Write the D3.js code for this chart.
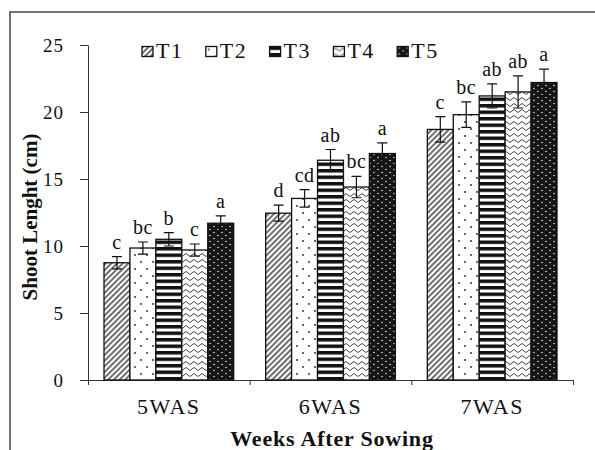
<!DOCTYPE html>
<html>
<head>
<meta charset="UTF-8">
<title>Shoot length</title>
<style>
  body { margin: 0; background: #fff; }
  text { font-family: "Liberation Serif", "Times New Roman", serif; fill: #111; }
  .axis path, .axis line { stroke: #333; stroke-width: 1; }
  .axis text { font-size: 19px; letter-spacing: 1px; font-family: "Liberation Serif", serif; fill: #111; }
</style>
<script src="https://d3js.org/d3.v7.min.js"></script>
</head>
<body>
<svg width="595" height="450"></svg>
<script>
var categories = ["5WAS", "6WAS", "7WAS"];
var series = ["T1", "T2", "T3", "T4", "T5"];
var means = {
  T1: [8.75, 12.45, 18.7],
  T2: [9.85, 13.55, 19.8],
  T3: [10.5, 16.4, 21.2],
  T4: [9.7, 14.4, 21.5],
  T5: [11.7, 16.9, 22.2]
};
var errors = {
  T1: [0.45, 0.6, 0.95],
  T2: [0.45, 0.65, 0.95],
  T3: [0.5, 0.8, 0.9],
  T4: [0.45, 0.8, 1.2],
  T5: [0.55, 0.8, 1.0]
};
var letters = {
  T1: ["c", "d", "c"],
  T2: ["bc", "cd", "bc"],
  T3: ["b", "ab", "ab"],
  T4: ["c", "bc", "ab"],
  T5: ["a", "a", "a"]
};
var yTicks = [0, 5, 10, 15, 20, 25];

var svg = d3.select("svg");
var plotLeft = 88, plotRight = 573, plotTop = 45, plotBottom = 380;

var x0 = d3.scaleBand().domain(categories).range([plotLeft, plotRight]);
var x1 = d3.scaleBand().domain(series).range([16, x0.bandwidth() - 16]);
var xEdge = d3.scaleLinear().domain([0, categories.length]).range([plotLeft, plotRight]);
var y = d3.scaleLinear().domain([0, 25]).range([plotBottom, plotTop]);

// patterns
var defs = svg.append("defs");
var p1 = defs.append("pattern").attr("id", "pT1").attr("patternUnits", "userSpaceOnUse")
  .attr("width", 4).attr("height", 4).attr("patternTransform", "rotate(45)");
p1.append("rect").attr("width", 4).attr("height", 4).attr("fill", "#fff");
p1.append("line").attr("x1", 1).attr("y1", 0).attr("x2", 1).attr("y2", 4)
  .attr("stroke", "#222").attr("stroke-width", 1.3);

var p2 = defs.append("pattern").attr("id", "pT2").attr("patternUnits", "userSpaceOnUse")
  .attr("width", 12).attr("height", 14);
p2.append("rect").attr("width", 12).attr("height", 14).attr("fill", "#fff");
p2.append("circle").attr("cx", 3).attr("cy", 3).attr("r", 0.9).attr("fill", "#222");
p2.append("circle").attr("cx", 9).attr("cy", 10).attr("r", 0.9).attr("fill", "#222");

var p3 = defs.append("pattern").attr("id", "pT3").attr("patternUnits", "userSpaceOnUse")
  .attr("width", 6).attr("height", 6.5);
p3.append("rect").attr("width", 6).attr("height", 6.5).attr("fill", "#fff");
p3.append("rect").attr("width", 6).attr("height", 3.5).attr("fill", "#111");

var p4 = defs.append("pattern").attr("id", "pT4").attr("patternUnits", "userSpaceOnUse")
  .attr("width", 8).attr("height", 6);
p4.append("rect").attr("width", 8).attr("height", 6).attr("fill", "#fff");
p4.append("path").attr("d", "M0,3 Q2,0 4,3 T8,3").attr("fill", "none")
  .attr("stroke", "#444").attr("stroke-width", 1);

var p5 = defs.append("pattern").attr("id", "pT5").attr("patternUnits", "userSpaceOnUse")
  .attr("width", 8).attr("height", 6);
p5.append("rect").attr("width", 8).attr("height", 6).attr("fill", "#151515");
p5.append("circle").attr("cx", 2).attr("cy", 1.5).attr("r", 0.8).attr("fill", "#ddd");
p5.append("circle").attr("cx", 6).attr("cy", 4.5).attr("r", 0.8).attr("fill", "#ddd");

// frame of the scanned page
svg.append("path").attr("d", "M10,450 V12 H595")
  .attr("fill", "none").attr("stroke", "#444").attr("stroke-width", 1.5);

// y axis
svg.append("g").attr("class", "axis")
  .attr("transform", "translate(" + plotLeft + ",0)")
  .call(d3.axisLeft(y).tickValues(yTicks).tickSize(8).tickSizeOuter(0).tickPadding(16));

// x axis: boundary ticks
svg.append("g").attr("class", "axis")
  .attr("transform", "translate(0," + plotBottom + ")")
  .call(d3.axisBottom(xEdge).tickValues(d3.range(categories.length + 1)).tickFormat("").tickSize(5).tickSizeOuter(0));

// category labels
svg.append("g").selectAll("text").data(categories).join("text")
  .attr("x", function(d) { return x0(d) + x0.bandwidth() / 2; })
  .attr("y", 414)
  .attr("text-anchor", "middle")
  .style("font-size", "22px").style("letter-spacing", "1.5px")
  .text(function(d) { return d; });

function rows(s) {
  return categories.map(function(c, i) {
    return {s: s, c: c, v: means[s][i], e: errors[s][i], l: letters[s][i]};
  });
}

// bars
var groups = svg.append("g").selectAll("g").data(series).join("g");
groups.selectAll("rect")
  .data(rows)
  .join("rect")
  .attr("x", function(d) { return x0(d.c) + x1(d.s); })
  .attr("y", function(d) { return y(d.v); })
  .attr("width", x1.bandwidth())
  .attr("height", function(d) { return y(0) - y(d.v); })
  .attr("fill", function(d) { return "url(#p" + d.s + ")"; })
  .attr("stroke", "#111").attr("stroke-width", 1.3);

// error bars and letters
var eb = groups.selectAll("g.err")
  .data(rows)
  .join("g").attr("class", "err")
  .attr("transform", function(d) { return "translate(" + (x0(d.c) + x1(d.s) + x1.bandwidth() / 2) + ",0)"; });
eb.append("path")
  .attr("d", function(d) {
    var a = y(d.v + d.e), b = y(d.v - d.e);
    return "M0," + a + "V" + b + "M-5," + a + "H5M-5," + b + "H5";
  })
  .attr("stroke", "#111").attr("stroke-width", 1.2).attr("fill", "none");
eb.append("text")
  .attr("y", function(d) { return y(d.v + d.e) - 8; })
  .attr("text-anchor", "middle")
  .style("font-size", "20px").style("letter-spacing", "0.5px")
  .text(function(d) { return d.l; });

// legend
var legend = svg.append("g").selectAll("g").data(series).join("g")
  .attr("transform", function(d, i) { return "translate(" + (142 + i * 63.8) + ",46.5)"; });
legend.append("rect").attr("width", 11).attr("height", 10)
  .attr("fill", function(d) { return "url(#p" + d + ")"; })
  .attr("stroke", "#111").attr("stroke-width", 1.3);
legend.append("text").attr("x", 14).attr("y", 11)
  .style("font-size", "22px").style("letter-spacing", "1.5px")
  .text(function(d) { return d; });

// axis titles
svg.append("text")
  .attr("transform", "rotate(-90)")
  .attr("x", -217).attr("y", 37)
  .attr("text-anchor", "middle")
  .style("font-size", "21px").style("font-weight", "bold")
  .text("Shoot Lenght (cm)");
svg.append("text")
  .attr("x", 332).attr("y", 446)
  .attr("text-anchor", "middle")
  .style("font-size", "22px").style("font-weight", "bold").style("letter-spacing", "0.8px")
  .text("Weeks After Sowing");
</script>
</body>
</html>
